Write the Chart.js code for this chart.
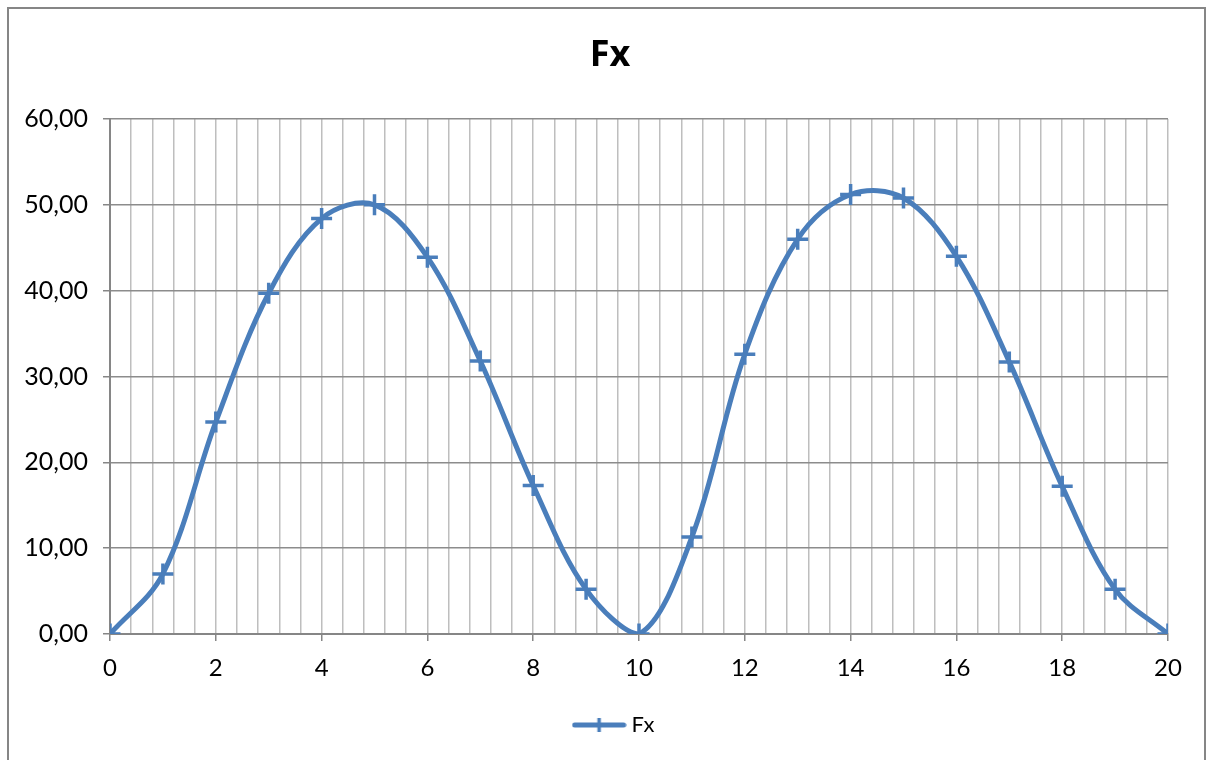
<!DOCTYPE html>
<html>
<head>
<meta charset="utf-8">
<script src="https://cdn.jsdelivr.net/npm/chart.js@4/dist/chart.umd.min.js"></script>
<style>
  html, body { margin: 0; padding: 0; background: #ffffff; overflow: hidden; }
  #wrap { position: relative; width: 1214px; height: 760px; }
  #frame { position: absolute; left: 7px; top: 7px; width: 1199px; height: 800px; border: 2px solid #868686; box-sizing: border-box; pointer-events: none; }
  canvas { position: absolute; left: 0; top: 0; }
</style>
</head>
<body>
<div id="wrap">
  <canvas id="c" width="1214" height="760"></canvas>
  <div id="frame"></div>
</div>
<script>
// ---- data ----
const xValues = [0, 1, 2, 3, 4, 5, 6, 7, 8, 9, 10, 11, 12, 13, 14, 15, 16, 17, 18, 19, 20];
const fxValues = [0, 7.0, 24.7, 39.7, 48.4, 50.0, 43.9, 31.8, 17.3, 5.2, 0, 11.3, 32.6, 46.0, 51.2, 50.8, 44.0, 31.7, 17.2, 5.2, 0];
const seriesName = 'Fx';
const chartTitle = 'Fx';

const BLUE = '#4A7EBB';
const FONT = 'Lato, "Open Sans", sans-serif';

// legend symbol: line with a cross marker
const legendImg = document.createElement('canvas');
legendImg.width = 55; legendImg.height = 24;
(function () {
  const g = legendImg.getContext('2d');
  g.strokeStyle = BLUE;
  g.lineCap = 'round';
  g.lineWidth = 5;
  g.beginPath(); g.moveTo(3, 12); g.lineTo(52, 12); g.stroke();
  g.lineCap = 'butt';
  g.lineWidth = 3.5;
  g.beginPath(); g.moveTo(27.5, 5); g.lineTo(27.5, 19); g.stroke();
})();

// horizontal placement of title and legend boxes (centering like the original)
const shiftBoxes = {
  id: 'shiftBoxes',
  afterLayout(chart) {
    const t = chart.titleBlock, l = chart.legend;
    if (t) { t.left += 26; t.right += 26; }
    if (l) { l.left += 32; l.right += 32; }
  }
};

const points = xValues.map((x, i) => ({ x: x, y: fxValues[i] }));
const isMajor = (v) => Math.abs(v / 2 - Math.round(v / 2)) < 1e-6;

new Chart(document.getElementById('c'), {
  type: 'line',
  data: {
    datasets: [{
      label: seriesName,
      data: points,
      borderColor: BLUE,
      backgroundColor: BLUE,
      borderWidth: 5,
      tension: 0.35,
      fill: false,
      pointStyle: 'cross',
      pointRadius: 10.5,
      pointHoverRadius: 10.5,
      pointBorderWidth: 3.5,
      pointBorderColor: BLUE,
      pointBackgroundColor: BLUE
    }]
  },
  plugins: [shiftBoxes],
  options: {
    responsive: false,
    animation: false,
    layout: { padding: { left: 0, right: 46, top: 0, bottom: 14 } },
    plugins: {
      tooltip: { enabled: false },
      title: {
        display: true,
        text: chartTitle,
        color: '#000000',
        font: { family: '"Open Sans", Lato, sans-serif', size: 36, weight: 'bold', lineHeight: 1.2 },
        padding: { top: 34, bottom: 41.8 }
      },
      legend: {
        display: true,
        position: 'bottom',
        align: 'center',
        labels: {
          usePointStyle: true,
          pointStyle: legendImg,
          pointStyleWidth: 43,
          boxHeight: 22,
          padding: 10,
          color: '#000000',
          font: { family: FONT, size: 22 }
        }
      }
    },
    scales: {
      x: {
        type: 'linear',
        min: 0,
        max: 20,
        offset: false,
        afterFit: (scale) => { scale.height = 70; },
        ticks: {
          stepSize: 0.4,
          autoSkip: false,
          maxRotation: 0,
          padding: 13,
          color: '#000000',
          font: { family: FONT, size: 24 },
          callback: (v) => (isMajor(v) ? String(Math.round(v)) : '')
        },
        grid: {
          color: '#bebebe',
          lineWidth: 1.5,
          drawTicks: true,
          tickLength: 7,
          tickWidth: 1.5,
          tickColor: (ctx) => (ctx.tick && isMajor(ctx.tick.value)) ? '#868686' : 'rgba(0,0,0,0)'
        },
        border: { display: true, color: '#868686', width: 2 }
      },
      y: {
        type: 'linear',
        min: 0,
        max: 60,
        afterFit: (scale) => { scale.width = 110; },
        ticks: {
          stepSize: 10,
          padding: 15,
          color: '#000000',
          font: { family: FONT, size: 25 },
          callback: (v) => Number(v).toFixed(2).replace('.', ',')
        },
        grid: {
          color: '#8c8c8c',
          lineWidth: 1.5,
          drawTicks: true,
          tickLength: 7,
          tickWidth: 1.5,
          tickColor: '#868686'
        },
        border: { display: true, color: '#868686', width: 2 }
      }
    }
  }
});
</script>
</body>
</html>
